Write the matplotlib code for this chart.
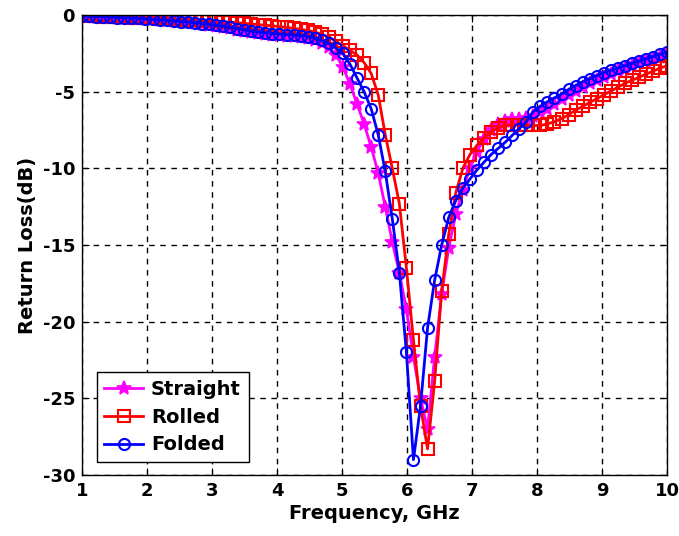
import numpy as np
import matplotlib
matplotlib.use("Agg")
import matplotlib.pyplot as plt

plt.rcParams['font.family'] = ['DejaVu Sans']
plt.rcParams['font.weight'] = 'bold'
plt.rcParams['axes.unicode_minus'] = False

# frequency sweep, 84 points from 1 to 10 GHz
freq = np.linspace(1, 10, 84)

straight = [
    -0.05, -0.08, -0.10, -0.12, -0.14, -0.16, -0.18, -0.20, -0.22, -0.25,
    -0.28, -0.30, -0.33, -0.36, -0.40, -0.44, -0.50, -0.56, -0.62, -0.70,
    -0.78, -0.86, -0.95, -1.03, -1.10, -1.17, -1.22, -1.27, -1.30, -1.33,
    -1.37, -1.42, -1.50, -1.62, -1.80, -2.10, -2.60, -3.40, -4.50, -5.80,
    -7.10, -8.60, -10.3, -12.5, -14.8, -16.8, -19.2, -22.3, -25.0, -27.0,
    -22.3, -18.2, -15.2, -13.0, -11.4, -10.0, -8.90, -8.10, -7.50, -7.10,
    -6.90, -6.80, -6.75, -6.70, -6.55, -6.35, -6.10, -5.80, -5.50, -5.20,
    -4.95, -4.70, -4.45, -4.25, -4.05, -3.85, -3.65, -3.50, -3.30, -3.15,
    -3.00, -2.85, -2.70, -2.55]

rolled = [
    -0.05, -0.07, -0.08, -0.10, -0.12, -0.13, -0.15, -0.16, -0.18, -0.20,
    -0.22, -0.24, -0.26, -0.28, -0.30, -0.32, -0.34, -0.36, -0.38, -0.40,
    -0.43, -0.46, -0.50, -0.54, -0.58, -0.62, -0.66, -0.70, -0.75, -0.80,
    -0.86, -0.93, -1.00, -1.10, -1.25, -1.45, -1.70, -2.00, -2.30, -2.60,
    -3.10, -3.80, -5.20, -7.80, -10.0, -12.3, -16.5, -21.2, -25.5, -28.3,
    -23.9, -18.0, -14.3, -11.6, -10.0, -9.10, -8.50, -8.00, -7.60, -7.35,
    -7.20, -7.15, -7.15, -7.20, -7.20, -7.20, -7.10, -6.95, -6.75, -6.50,
    -6.20, -5.95, -5.70, -5.45, -5.20, -4.95, -4.70, -4.45, -4.25, -4.05,
    -3.85, -3.65, -3.45, -3.30]

folded = [
    -0.05, -0.08, -0.10, -0.12, -0.14, -0.16, -0.18, -0.20, -0.22, -0.25,
    -0.28, -0.31, -0.34, -0.38, -0.42, -0.46, -0.50, -0.55, -0.60, -0.66,
    -0.72, -0.80, -0.88, -0.96, -1.04, -1.10, -1.16, -1.20, -1.24, -1.27,
    -1.30, -1.34, -1.40, -1.50, -1.65, -1.85, -2.15, -2.50, -3.20, -4.10,
    -5.00, -6.10, -7.80, -10.2, -13.3, -16.8, -22.0, -29.0, -25.5, -20.4,
    -17.3, -15.0, -13.2, -12.1, -11.3, -10.7, -10.1, -9.60, -9.10, -8.70,
    -8.30, -7.85, -7.40, -6.95, -6.30, -5.95, -5.65, -5.40, -5.15, -4.85,
    -4.60, -4.35, -4.15, -3.95, -3.75, -3.60, -3.45, -3.30, -3.15, -3.00,
    -2.85, -2.70, -2.55, -2.40]

fig = plt.figure(figsize=(6.79, 5.36), dpi=100)
ax = fig.add_axes([0.1208, 0.1138, 0.862, 0.858])

ax.plot(freq, straight, color='#FF00FF', lw=2, marker='*', ms=10,
        mew=1.2, label='Straight')
ax.plot(freq, rolled, color='#FF0000', lw=2, marker='s', ms=8,
        mfc='none', mew=1.5, label='Rolled')
ax.plot(freq, folded, color='#0000FF', lw=2, marker='o', ms=8,
        mfc='none', mew=1.5, label='Folded')

ax.set_xlim(1, 10)
ax.set_ylim(-30, 0)
ax.set_xticks(range(1, 11))
ax.set_yticks(range(-30, 1, 5))
ax.grid(True, color='black', linestyle=(0, (4, 4)), linewidth=1)
ax.tick_params(direction='in', top=True, right=True, labelsize=13,
               length=5, pad=5)
for s in ax.spines.values():
    s.set_linewidth(1)

ax.set_xlabel('Frequency, GHz', fontsize=14, fontweight='bold', labelpad=3)
ax.set_ylabel('Return Loss(dB)', fontsize=14, fontweight='bold', labelpad=4)

leg = ax.legend(loc='lower left', bbox_to_anchor=(0.015, 0.015), fontsize=14,
                fancybox=False, edgecolor='black', framealpha=1,
                handlelength=2.0, handletextpad=0.4, borderpad=0.4,
                labelspacing=0.45, borderaxespad=0.3)
leg.get_frame().set_linewidth(1)

fig.savefig('out.png', dpi=100)
